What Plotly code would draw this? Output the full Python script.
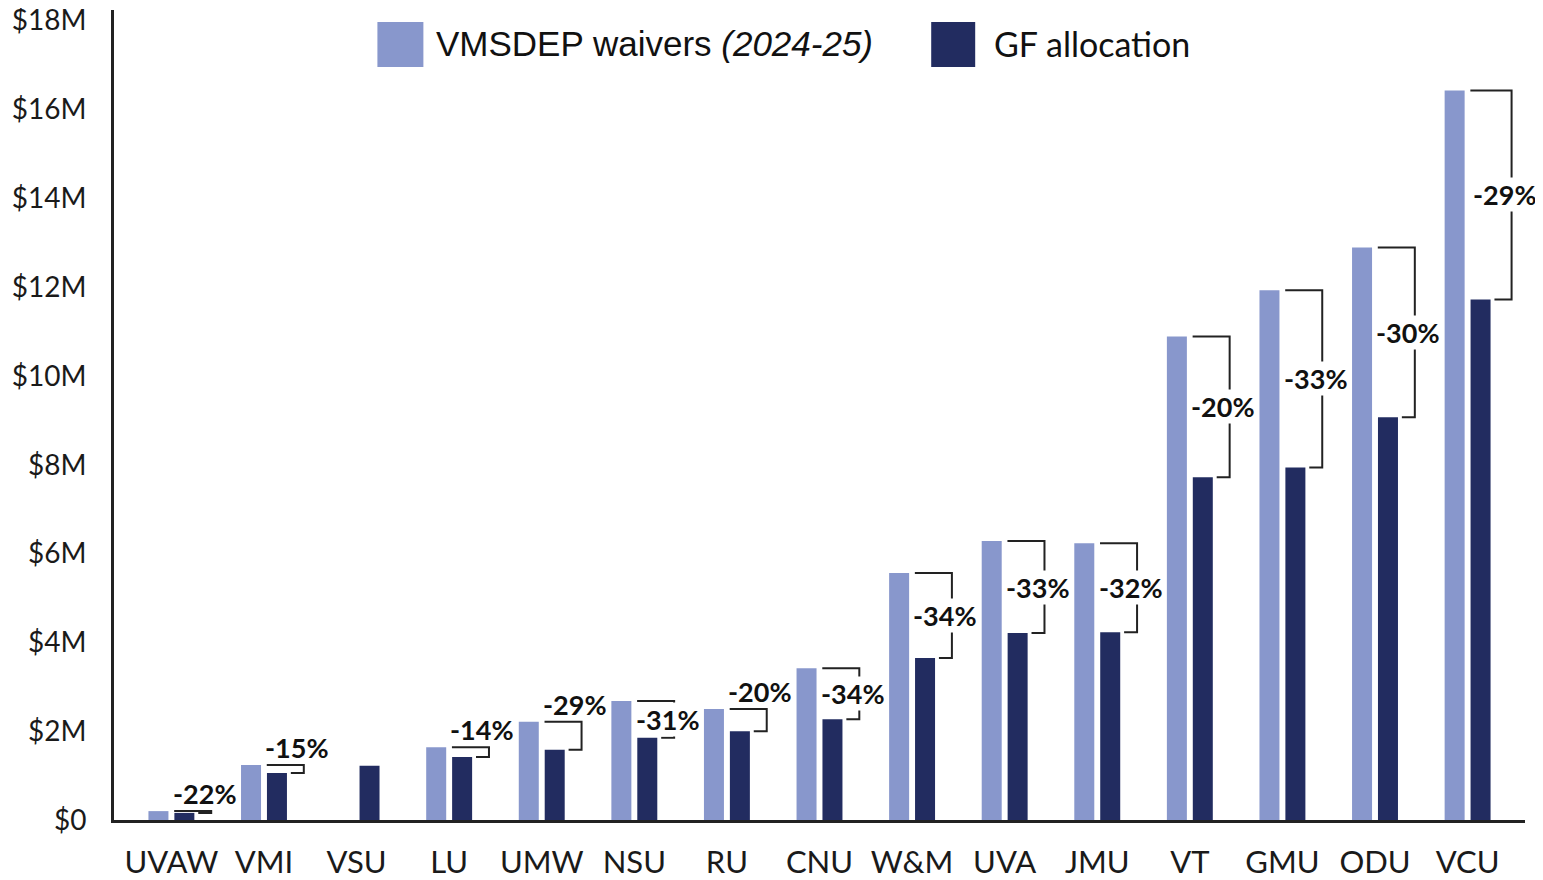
import plotly.graph_objects as go

# ---- data (values in $ millions) ----
schools = ["UVAW", "VMI", "VSU", "LU", "UMW", "NSU", "RU", "CNU",
           "W&M", "UVA", "JMU", "VT", "GMU", "ODU", "VCU"]
waivers = [0.20, 1.24, None, 1.64, 2.21, 2.68, 2.50, 3.42,
           5.56, 6.28, 6.23, 10.89, 11.93, 12.89, 16.43]
gf_alloc = [0.16, 1.06, 1.22, 1.42, 1.58, 1.85, 2.00, 2.27,
            3.65, 4.21, 4.23, 7.72, 7.94, 9.07, 11.72]
pct_labels = ["-22%", "-15%", None, "-14%", "-29%", "-31%", "-20%", "-34%",
              "-34%", "-33%", "-32%", "-20%", "-33%", "-30%", "-29%"]
y_tickvals = [0, 2, 4, 6, 8, 10, 12, 14, 16, 18]
y_ticktext = ["$0", "$2M", "$4M", "$6M", "$8M", "$10M", "$12M", "$14M", "$16M", "$18M"]

LIGHT = "#8897CC"
DARK = "#222C60"
TXT = "#1a1a1a"
FONT = "Lato"
ARIAL = "Liberation Sans"

xs = list(range(len(schools)))

fig = go.Figure()
fig.add_trace(go.Bar(x=xs, y=waivers, name="VMSDEP waivers (2024-25)",
                     marker=dict(color=LIGHT, line=dict(width=0)),
                     width=0.216, offset=-0.248, showlegend=False))
fig.add_trace(go.Bar(x=xs, y=gf_alloc, name="GF allocation",
                     marker=dict(color=DARK, line=dict(width=0)),
                     width=0.216, offset=0.032, showlegend=False))

shapes = []
annotations = []
for i, (w, g, lab) in enumerate(zip(waivers, gf_alloc, pct_labels)):
    if w is None or lab is None:
        continue
    last = i == len(schools) - 1
    xv = i + (0.475 if last else 0.43)
    path = f"M {i+0.03},{w} L {xv},{w} L {xv},{g} L {i+0.29},{g}"
    shapes.append(dict(type="path", xref="x", yref="y", path=path,
                       line=dict(color="#222222", width=2)))
    gap = w - g
    if gap >= 0.8:
        ylab = (w + g) / 2
        bg = "white"
    else:
        ylab = w + 0.39
        bg = "rgba(0,0,0,0)"
    annotations.append(dict(x=i + 0.36 + (0.04 if last else 0),
                            y=ylab, xref="x", yref="y", text=f"<b>{lab}</b>",
                            showarrow=False, xanchor="center", yanchor="middle",
                            font=dict(family=FONT, size=27, color="#111111"),
                            bgcolor=bg, borderpad=0))

# ---- manual legend (page has an 8px body margin) ----
OFF = 8
L, R, T, B = 113.5, 1525, 10, 820.5   # plot area in screen pixels
def px(x):
    return (x - L) / (R - L)
def py(y):
    return (B - y) / (B - T)

shapes.append(dict(type="rect", xref="paper", yref="paper",
                   x0=px(377), x1=px(423), y0=py(67), y1=py(22),
                   fillcolor=LIGHT, line=dict(width=0)))
shapes.append(dict(type="rect", xref="paper", yref="paper",
                   x0=px(931), x1=px(975), y0=py(67), y1=py(22),
                   fillcolor=DARK, line=dict(width=0)))
annotations.append(dict(x=px(434), y=py(44), xref="paper", yref="paper",
                        text="VMSDEP waivers <i>(2024-25)</i>", showarrow=False,
                        xanchor="left", yanchor="middle",
                        font=dict(family=ARIAL, size=35, color="#111111")))
annotations.append(dict(x=px(992), y=py(44), xref="paper", yref="paper",
                        text="GF allocation", showarrow=False,
                        xanchor="left", yanchor="middle",
                        font=dict(family=FONT, size=34, color="#111111")))

fig.update_layout(
    width=1543, height=880,
    margin=dict(l=L - OFF, r=1543 - (R - OFF), t=T - OFF, b=880 - (B - OFF)),
    paper_bgcolor="white", plot_bgcolor="white",
    barmode="overlay",
    shapes=shapes, annotations=annotations,
    showlegend=False,
    font=dict(family=FONT, color=TXT),
)
fig.update_xaxes(range=[-0.62, 14.62], tickvals=xs, ticktext=schools,
                 showline=True, linecolor="#222222", linewidth=3,
                 showgrid=False, zeroline=False, ticks="", automargin=False,
                 tickfont=dict(family=FONT, size=31, color=TXT),
                 ticklabelstandoff=13)
fig.update_yaxes(range=[0, 18.24], tickvals=y_tickvals, ticktext=y_ticktext,
                 showline=True, linecolor="#222222", linewidth=3,
                 showgrid=False, zeroline=False, ticks="", automargin=False,
                 ticklabeloverflow="allow",
                 tickfont=dict(family=FONT, size=28, color=TXT),
                 ticklabelstandoff=19)

fig.write_html("out.html")
